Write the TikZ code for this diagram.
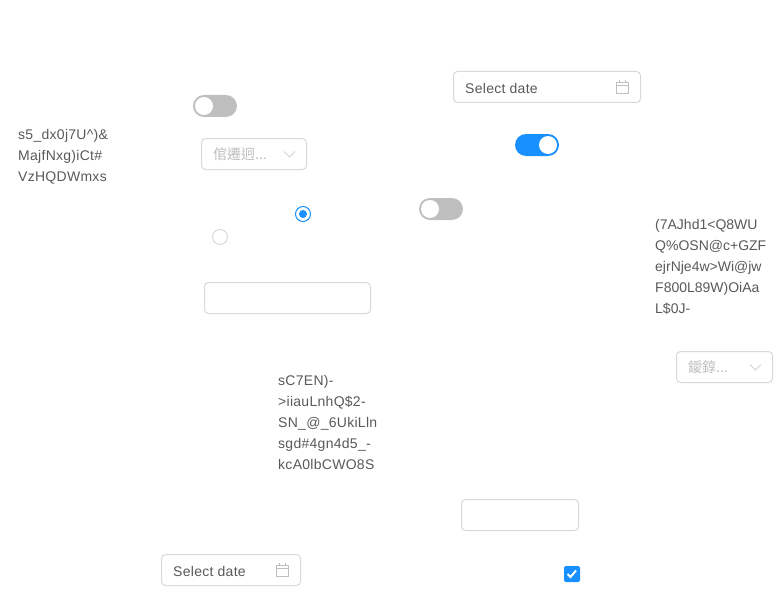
\documentclass[tikz,border=0pt]{standalone}
\usepackage{fontspec}
\setmainfont{Liberation Sans}
\newfontfamily\cjkfont{Noto Sans CJK TC}
\newfontfamily\widefont[LetterSpace=2]{Liberation Sans}
\usetikzlibrary{positioning}

\definecolor{antblue}{HTML}{1890FF}
\definecolor{antborder}{HTML}{D9D9D9}
\definecolor{anttext}{HTML}{595959}
\definecolor{antoff}{HTML}{BFBFBF}
\definecolor{antghost}{HTML}{BFBFBF}

\tikzset{
	inputbox/.style = {draw = antborder, line width = 1pt, rounded corners = 4pt, fill = white, inner sep = 0pt, minimum height = 31pt},
	bodytext/.style = {text = anttext, font = \fontsize{14}{21}\selectfont, align = left, anchor = north west, inner sep = 0pt},
	widetext/.style = {bodytext, font = \fontsize{14}{21}\selectfont\widefont},
	datetext/.style = {text = anttext, font = \fontsize{14}{21}\selectfont\widefont, anchor = west, inner sep = 0pt},
	ghosttext/.style = {text = antghost, font = \fontsize{14}{21}\selectfont\cjkfont, anchor = west, inner sep = 0pt},
	switchoff/.style = {fill = antoff, rounded corners = 11pt, inner sep = 0pt, minimum width = 44pt, minimum height = 22pt},
	switchon/.style = {switchoff, fill = antblue},
	knob/.style = {circle, fill = white, inner sep = 0pt, minimum size = 18pt},
	radioring/.style = {circle, draw = antborder, line width = 1pt, fill = white, inner sep = 0pt, minimum size = 15pt},
	radioon/.style = {radioring, draw = antblue},
	radiodot/.style = {circle, fill = antblue, inner sep = 0pt, minimum size = 8pt},
	iconline/.style = {draw = antghost, line width = 0.6pt},
	checkbox/.style = {fill = antblue, rounded corners = 2pt, inner sep = 0pt, minimum size = 16pt}
}

\begin{document}
\begin{tikzpicture}[x = 1pt, y = -1pt]
	\useasboundingbox (0, 0) rectangle (780, 594);

	% switches
	\node[switchoff] (sw1) at (215, 106) {};
	\node[knob] (sw1k) at (204, 106) {};
	\node[switchon] (sw2) at (537, 145) {};
	\node[knob] (sw2k) at (548, 145) {};
	\node[switchoff] (sw3) at (441, 209) {};
	\node[knob] (sw3k) at (430, 209) {};

	% date pickers
	\node[inputbox, minimum width = 187pt] (date1) at (547, 87) {};
	\node[datetext] (date1t) at (465, 88) {Select date};
	\node[inputbox, minimum width = 139pt] (date2) at (231, 570) {};
	\node[datetext] (date2t) at (173, 571) {Select date};

	% selects
	\node[inputbox, minimum width = 105pt] (sel1) at (254, 154) {};
	\node[ghosttext] (sel1t) at (213, 154) {倌遷迥...};
	\node[inputbox, minimum width = 96pt] (sel2) at (724.5, 367) {};
	\node[ghosttext] (sel2t) at (688, 367) {鑀錞...};

	% plain inputs
	\node[inputbox, minimum width = 166pt] (inp1) at (287.5, 298) {};
	\node[inputbox, minimum width = 117pt] (inp2) at (520, 515) {};

	% radios
	\node[radioon] (rad1) at (303, 214) {};
	\node[radiodot] (rad1d) at (303, 214) {};
	\node[radioring] (rad2) at (220, 237) {};

	% paragraphs
	\node[widetext] (par1) at (18, 129) {s5\_dx0j7U\^{})\&\\MajfNxg)iCt\#\\VzHQDWmxs};
	\node[bodytext] (par2) at (655, 219) {(7AJhd1<Q8WU\\Q\%OSN@c+GZF\\ejrNje4w>Wi@jw\\F800L89W)OiAa\\L\$0J-};
	\node[widetext] (par3) at (278, 375) {sC7EN)-\\>iiauLnhQ\$2-\\SN\_@\_6UkiLln\\sgd\#4gn4d5\_-\\kcA0lbCWO8S};

	% checkbox
	\node[checkbox] (chk) at (572, 574) {};
	\draw[white, line width = 2pt] (chk.center) ++(-4.5, 0) -- ++(3, 3) -- ++(5.5, -6.5);

	% chevrons
	\draw[iconline] (sel1.east) ++(-23, -2.5) -- ++(5.5, 5.5) -- ++(5.5, -5.5);
	\draw[iconline] (sel2.east) ++(-23, -2.5) -- ++(5.5, 5.5) -- ++(5.5, -5.5);

	% calendar icons
	\foreach \d in {date1, date2} {
		\draw[iconline] (\d.east) ++(-25, -5) rectangle ++(12, 11);
		\draw[iconline] (\d.east) ++(-25, -2) -- ++(12, 0);
		\draw[iconline] (\d.east) ++(-22, -7) -- ++(0, 3);
		\draw[iconline] (\d.east) ++(-16, -7) -- ++(0, 3);
	}
\end{tikzpicture}
\end{document}
